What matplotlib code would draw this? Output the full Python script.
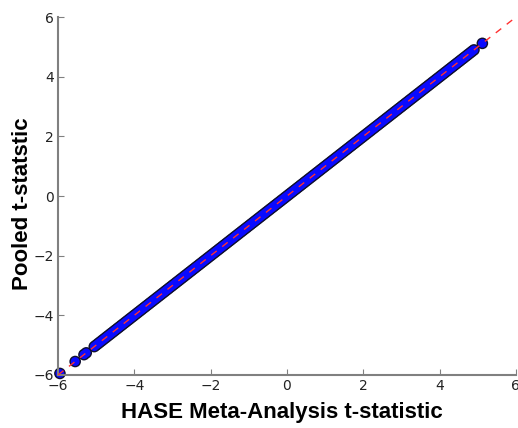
import matplotlib
matplotlib.use('Agg')
from matplotlib import pyplot as plt

# HASE meta-analysis t-statistic vs pooled t-statistic
# the sparse tail points, then the dense band
meta_t = [-5.95, -5.55, -5.32, -5.26, -5.05, -5.00,
          -4.95, -4.90, -4.85, -4.80, -4.75, -4.70, -4.65, -4.60, -4.55, -4.50,
          -4.45, -4.40, -4.35, -4.30, -4.25, -4.20, -4.15, -4.10, -4.05, -4.00,
          -3.95, -3.90, -3.85, -3.80, -3.75, -3.70, -3.65, -3.60, -3.55, -3.50,
          -3.45, -3.40, -3.35, -3.30, -3.25, -3.20, -3.15, -3.10, -3.05, -3.00,
          -2.95, -2.90, -2.85, -2.80, -2.75, -2.70, -2.65, -2.60, -2.55, -2.50,
          -2.45, -2.40, -2.35, -2.30, -2.25, -2.20, -2.15, -2.10, -2.05, -2.00,
          -1.95, -1.90, -1.85, -1.80, -1.75, -1.70, -1.65, -1.60, -1.55, -1.50,
          -1.45, -1.40, -1.35, -1.30, -1.25, -1.20, -1.15, -1.10, -1.05, -1.00,
          -0.95, -0.90, -0.85, -0.80, -0.75, -0.70, -0.65, -0.60, -0.55, -0.50,
          -0.45, -0.40, -0.35, -0.30, -0.25, -0.20, -0.15, -0.10, -0.05, 0.00,
          0.05, 0.10, 0.15, 0.20, 0.25, 0.30, 0.35, 0.40, 0.45, 0.50,
          0.55, 0.60, 0.65, 0.70, 0.75, 0.80, 0.85, 0.90, 0.95, 1.00,
          1.05, 1.10, 1.15, 1.20, 1.25, 1.30, 1.35, 1.40, 1.45, 1.50,
          1.55, 1.60, 1.65, 1.70, 1.75, 1.80, 1.85, 1.90, 1.95, 2.00,
          2.05, 2.10, 2.15, 2.20, 2.25, 2.30, 2.35, 2.40, 2.45, 2.50,
          2.55, 2.60, 2.65, 2.70, 2.75, 2.80, 2.85, 2.90, 2.95, 3.00,
          3.05, 3.10, 3.15, 3.20, 3.25, 3.30, 3.35, 3.40, 3.45, 3.50,
          3.55, 3.60, 3.65, 3.70, 3.75, 3.80, 3.85, 3.90, 3.95, 4.00,
          4.05, 4.10, 4.15, 4.20, 4.25, 4.30, 4.35, 4.40, 4.45, 4.50,
          4.55, 4.60, 4.65, 4.70, 4.75, 4.80, 4.85, 4.90, 5.12]
pooled_t = [-5.95, -5.55, -5.32, -5.26, -5.05, -5.00,
            -4.95, -4.90, -4.85, -4.80, -4.75, -4.70, -4.65, -4.60, -4.55, -4.50,
            -4.45, -4.40, -4.35, -4.30, -4.25, -4.20, -4.15, -4.10, -4.05, -4.00,
            -3.95, -3.90, -3.85, -3.80, -3.75, -3.70, -3.65, -3.60, -3.55, -3.50,
            -3.45, -3.40, -3.35, -3.30, -3.25, -3.20, -3.15, -3.10, -3.05, -3.00,
            -2.95, -2.90, -2.85, -2.80, -2.75, -2.70, -2.65, -2.60, -2.55, -2.50,
            -2.45, -2.40, -2.35, -2.30, -2.25, -2.20, -2.15, -2.10, -2.05, -2.00,
            -1.95, -1.90, -1.85, -1.80, -1.75, -1.70, -1.65, -1.60, -1.55, -1.50,
            -1.45, -1.40, -1.35, -1.30, -1.25, -1.20, -1.15, -1.10, -1.05, -1.00,
            -0.95, -0.90, -0.85, -0.80, -0.75, -0.70, -0.65, -0.60, -0.55, -0.50,
            -0.45, -0.40, -0.35, -0.30, -0.25, -0.20, -0.15, -0.10, -0.05, 0.00,
            0.05, 0.10, 0.15, 0.20, 0.25, 0.30, 0.35, 0.40, 0.45, 0.50,
            0.55, 0.60, 0.65, 0.70, 0.75, 0.80, 0.85, 0.90, 0.95, 1.00,
            1.05, 1.10, 1.15, 1.20, 1.25, 1.30, 1.35, 1.40, 1.45, 1.50,
            1.55, 1.60, 1.65, 1.70, 1.75, 1.80, 1.85, 1.90, 1.95, 2.00,
            2.05, 2.10, 2.15, 2.20, 2.25, 2.30, 2.35, 2.40, 2.45, 2.50,
            2.55, 2.60, 2.65, 2.70, 2.75, 2.80, 2.85, 2.90, 2.95, 3.00,
            3.05, 3.10, 3.15, 3.20, 3.25, 3.30, 3.35, 3.40, 3.45, 3.50,
            3.55, 3.60, 3.65, 3.70, 3.75, 3.80, 3.85, 3.90, 3.95, 4.00,
            4.05, 4.10, 4.15, 4.20, 4.25, 4.30, 4.35, 4.40, 4.45, 4.50,
            4.55, 4.60, 4.65, 4.70, 4.75, 4.80, 4.85, 4.90, 5.12]
lims = [-6, 6]
ticks = [-6, -4, -2, 0, 2, 4, 6]

fig = plt.figure(figsize=(5.18, 4.28), dpi=100)
ax = fig.add_axes([0.112, 0.124, 0.884, 0.836])

# dark rim underneath, blue fill on top
ax.scatter(meta_t, pooled_t, s=70, c='#101030', edgecolors='none',
           zorder=2, clip_on=False)
ax.scatter(meta_t, pooled_t, s=40, c='#0a0aff', edgecolors='none',
           zorder=2.5, clip_on=False)
ax.plot(lims, lims, '--', color='#ff3030', lw=1.0, dashes=(5, 5), zorder=3)

ax.set_xlim(lims)
ax.set_ylim(lims)
ax.set_xticks(ticks)
ax.set_yticks(ticks)
ax.tick_params(direction='in', length=4, color='#808080', labelsize=10,
               labelcolor='#222222', pad=3)
ax.spines['top'].set_visible(False)
ax.spines['right'].set_visible(False)
for side in ['left', 'bottom']:
    ax.spines[side].set_color('#808080')
    ax.spines[side].set_linewidth(1.5)

# axis titles placed as in the reference
fig.text(0.544, 0.037, 'HASE Meta-Analysis t-statistic', fontsize=16,
         fontweight='bold', family='Liberation Sans', ha='center', va='center')
fig.text(0.043, 0.523, 'Pooled t-statstic', fontsize=16, fontweight='bold',
         family='Liberation Sans', ha='center', va='center', rotation=90)

fig.savefig('out.png', dpi=100)
